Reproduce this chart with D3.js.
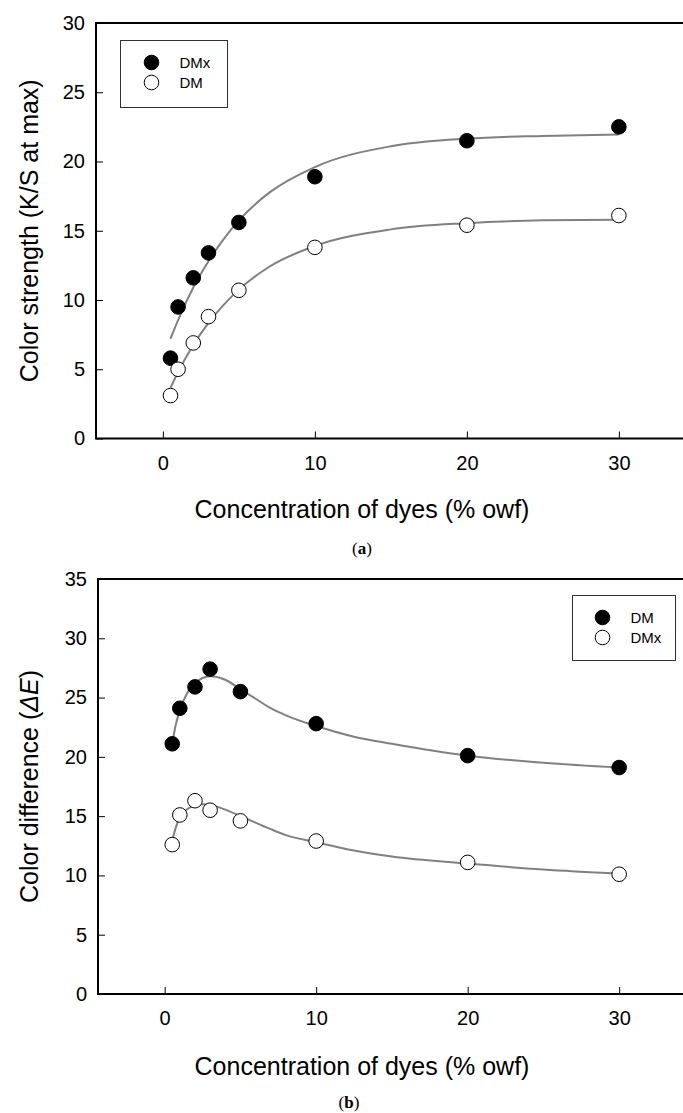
<!DOCTYPE html>
<html>
<head>
<meta charset="utf-8">
<script src="https://cdn.jsdelivr.net/npm/d3@7"></script>
<style>
  html, body { margin: 0; padding: 0; background: #fff; }
  svg { display: block; font-family: "Liberation Sans", Arial, sans-serif; }
</style>
</head>
<body>
<svg id="chart" width="683" height="1113"></svg>
<script>
// Dye concentrations (% owf) at which samples were measured
const doses = [0.5, 1, 2, 3, 5, 10, 20, 30];

// (a) Color strength K/S at max
const strengthDMx = [5.8, 9.5, 11.6, 13.4, 15.6, 18.9, 21.5, 22.5];
const strengthDM  = [3.1, 5.0, 6.9, 8.8, 10.7, 13.8, 15.4, 16.1];
// fitted curves for (a)
const fitDosesA       = [0.5, 1, 2, 3, 4, 5, 7, 10, 15, 20, 25, 30];
const fitStrengthDMx  = [7.2, 8.55, 10.9, 12.8, 14.4, 15.75, 17.75, 19.6, 21.1, 21.65, 21.85, 21.95];
const fitStrengthDM   = [3.65, 4.8, 6.75, 8.35, 9.65, 10.75, 12.4, 13.9, 15.1, 15.55, 15.75, 15.8];

// (b) Color difference ΔE
const diffDM  = [21.1, 24.1, 25.9, 27.4, 25.5, 22.8, 20.1, 19.1];
const diffDMx = [12.6, 15.1, 16.3, 15.5, 14.6, 12.9, 11.1, 10.1];
// fitted curves for (b)
const fitDosesB  = [0.5, 0.75, 1, 1.5, 2, 2.5, 3, 4, 5, 6, 7, 8, 10, 12.5, 15, 20, 25, 30];
const fitDiffDM  = [21.2, 22.8, 23.9, 25.4, 26.2, 26.65, 26.8, 26.5, 25.7, 24.9, 24.1, 23.5, 22.6, 21.7, 21.1, 20.1, 19.5, 19.1];
const fitDiffDMx = [12.95, 14.1, 14.9, 15.6, 15.9, 16.0, 15.95, 15.55, 15.0, 14.45, 13.9, 13.4, 12.8, 12.1, 11.6, 11.0, 10.5, 10.15];

// tick values
const xTicks  = [0, 10, 20, 30];
const yTicksA = [0, 5, 10, 15, 20, 25, 30];
const yTicksB = [0, 5, 10, 15, 20, 25, 30, 35];

const xTitle = "Concentration of dyes (% owf)";

const svg = d3.select("#chart");

function drawPanel(p) {
  const g = svg.append("g");
  const x = d3.scaleLinear().domain([-4.4, 35]).range([p.left, p.left + 39.4 * p.xUnit]);
  const y = d3.scaleLinear().domain(p.yDomain).range([p.bottom, p.top]);

  // x axis with inward ticks
  const xAxis = g.append("g")
    .attr("transform", `translate(0,${p.bottom})`)
    .call(d3.axisBottom(x).tickValues(xTicks).tickSizeInner(-7).tickSizeOuter(0).tickPadding(17));
  // y axis with inward ticks
  const yAxis = g.append("g")
    .attr("transform", `translate(${p.left},0)`)
    .call(d3.axisLeft(y).tickValues(p.yTicks).tickSizeInner(-7).tickSizeOuter(0).tickPadding(11));
  [xAxis, yAxis].forEach(a => {
    a.select(".domain").remove();
    a.selectAll("line").attr("stroke", "#000").attr("stroke-width", 1);
    a.selectAll("text").attr("font-size", 20).attr("fill", "#000")
      .attr("font-family", "Liberation Sans, Arial, sans-serif");
  });

  // plot frame (right side runs off the page)
  g.append("rect")
    .attr("x", p.left).attr("y", p.top)
    .attr("width", x.range()[1] - p.left + 20).attr("height", p.bottom - p.top)
    .attr("fill", "none").attr("stroke", "#000").attr("stroke-width", 2);

  // fitted curves
  const line = d3.line().x(d => x(d[0])).y(d => y(d[1])).curve(d3.curveMonotoneX);
  p.fits.forEach(f => {
    g.append("path")
      .datum(d3.zip(p.fitX, f))
      .attr("d", line)
      .attr("fill", "none").attr("stroke", "#808080").attr("stroke-width", 2);
  });

  // data markers
  p.series.forEach(s => {
    g.append("g").selectAll("circle")
      .data(d3.zip(doses, s.values))
      .join("circle")
      .attr("cx", d => x(d[0])).attr("cy", d => y(d[1]))
      .attr("r", 7.3)
      .attr("fill", s.filled ? "#000" : "#fff")
      .attr("stroke", "#000").attr("stroke-width", 1);
  });

  // legend
  const lg = g.append("g");
  lg.append("rect")
    .attr("x", p.legend.x).attr("y", p.legend.y)
    .attr("width", p.legend.w).attr("height", p.legend.h)
    .attr("fill", "#fff").attr("stroke", "#333").attr("stroke-width", 1);
  p.series.forEach((s, i) => {
    const cy = p.legend.y + p.legend.firstRow + i * 20;
    lg.append("circle")
      .attr("cx", p.legend.x + p.legend.symX).attr("cy", cy).attr("r", 7.3)
      .attr("fill", s.filled ? "#000" : "#fff").attr("stroke", "#000").attr("stroke-width", 1);
    lg.append("text")
      .attr("x", p.legend.x + p.legend.textX).attr("y", cy + 5.5)
      .attr("font-size", 15).text(s.name);
  });

  // x axis title
  g.append("text")
    .attr("x", p.titleX).attr("y", p.xTitleY)
    .attr("text-anchor", "middle").attr("font-size", 25)
    .text(xTitle);

  // y axis title
  const yt = g.append("text")
    .attr("transform", `translate(${p.yTitleX},${(p.top + p.bottom) / 2}) rotate(-90)`)
    .attr("text-anchor", "middle").attr("font-size", 25);
  p.yTitle(yt);

  // panel caption
  const cap = g.append("text")
    .attr("x", p.captionX).attr("y", p.captionY)
    .attr("text-anchor", "middle").attr("font-size", 17)
    .attr("font-family", "Liberation Serif, Times New Roman, serif");
  cap.append("tspan").text("(");
  cap.append("tspan").attr("font-weight", "bold").text(p.caption);
  cap.append("tspan").text(")");
}

drawPanel({
  left: 96, top: 23, bottom: 438.5, xUnit: 15.2,
  yDomain: [0, 30], yTicks: yTicksA,
  fitX: fitDosesA, fits: [fitStrengthDMx, fitStrengthDM],
  series: [
    { name: "DMx", values: strengthDMx, filled: true },
    { name: "DM",  values: strengthDM,  filled: false }
  ],
  legend: { x: 120.5, y: 40.5, w: 107, h: 67, firstRow: 22, symX: 31, textX: 59 },
  titleX: 362, xTitleY: 518, yTitleX: 38,
  yTitle: t => t.text("Color strength (K/S at max)"),
  captionX: 362, captionY: 554, caption: "a"
});

drawPanel({
  left: 98, top: 579, bottom: 994, xUnit: 15.15,
  yDomain: [0, 35], yTicks: yTicksB,
  fitX: fitDosesB, fits: [fitDiffDM, fitDiffDMx],
  series: [
    { name: "DM",  values: diffDM,  filled: true },
    { name: "DMx", values: diffDMx, filled: false }
  ],
  legend: { x: 572.5, y: 595.5, w: 103, h: 65, firstRow: 22, symX: 30, textX: 58 },
  titleX: 362, xTitleY: 1075, yTitleX: 38,
  yTitle: t => {
    t.append("tspan").text("Color difference (");
    t.append("tspan").attr("font-style", "italic").text("ΔE");
    t.append("tspan").text(")");
  },
  captionX: 349, captionY: 1108, caption: "b"
});
</script>
</body>
</html>
